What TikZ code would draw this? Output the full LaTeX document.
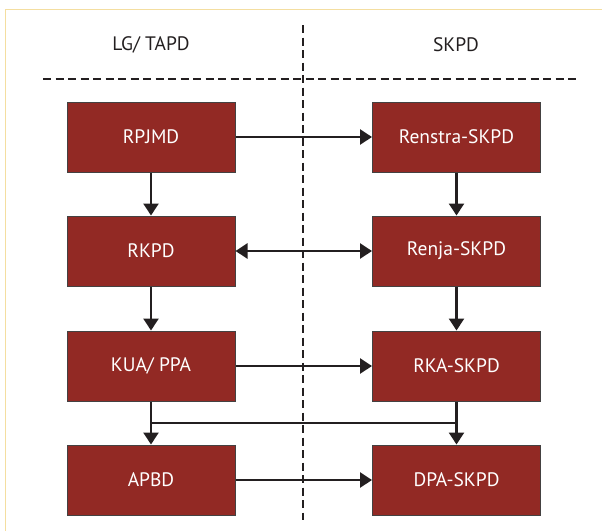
\documentclass[tikz,border=0pt]{standalone}
\usepackage{fontspec}
\setmainfont{PT Sans}
\usepackage{xcolor}
\usetikzlibrary{arrows.meta, positioning}

\definecolor{rojo}{RGB}{146,41,36}
\definecolor{borde}{RGB}{244,222,160}
\definecolor{tinta}{RGB}{35,31,32}

\tikzset{
    caja/.style={draw=tinta!85, line width=1pt, fill=rojo, text=white,
        minimum width=168pt, minimum height=70pt, inner sep=0pt,
        font=\fontsize{19.5}{22}\selectfont},
    titulo/.style={text=tinta, font=\fontsize{19.5}{22}\selectfont},
    punta/.style={Triangle[length=12pt, width=15pt]},
    flecha/.style={-{Triangle[length=12pt, width=15pt]}, line width=2.6pt, draw=tinta},
    guia/.style={draw=tinta, line width=2.6pt, dash pattern=on 8pt off 4.5pt}
}

\begin{document}
\begin{tikzpicture}[x=1pt, y=-1pt]
    \useasboundingbox (0,0) rectangle (602,531);

    % Marco
    \draw[borde, line width=1.5pt] (5.5,531) -- (5.5,9.5) -- (602,9.5);

    % Encabezados y lineas guia
    \node[titulo] (lg) at (151,45) {LG/ TAPD};
    \node[titulo] (skpd) at (456,45) {SKPD};
    \draw[guia] (43,79) -- (576,79);
    \draw[guia] (303,25) -- (303,520);

    % Columna izquierda
    \node[caja] (rpjmd) at (151,137) {RPJMD};
    \node[caja] (rkpd)  at (151,251) {RKPD};
    \node[caja] (kua)   at (151,366) {KUA/ PPA};
    \node[caja] (apbd)  at (151,480) {APBD};

    % Columna derecha
    \node[caja] (renstra) at (456.5,137) {Renstra-SKPD};
    \node[caja] (renja)   at (456.5,251) {Renja-SKPD};
    \node[caja] (rka)     at (456.5,366) {RKA-SKPD};
    \node[caja] (dpa)     at (456.5,480) {DPA-SKPD};

    % Flechas verticales
    \draw[flecha] (rpjmd) -- (rkpd);
    \draw[flecha] (rkpd) -- (kua);
    \draw[flecha] (kua) -- (apbd) coordinate[pos=0.5] (kuaapbd);
    \draw[flecha] (renstra) -- (renja);
    \draw[flecha] (renja) -- (rka);
    \draw[flecha] (rka) -- (dpa) coordinate[pos=0.5] (rkadpa);

    % Flechas horizontales
    \draw[flecha] (rpjmd) -- (renstra);
    \draw[flecha, {Triangle[length=12pt, width=15pt]}-{Triangle[length=12pt, width=15pt]}] (rkpd) -- (renja);
    \draw[flecha] (kua) -- (rka);
    \draw[flecha] (apbd) -- (dpa);

    % Enlace entre KUA/PPA y RKA
    \draw[tinta, line width=1.2pt] (kuaapbd) -- (rkadpa);
\end{tikzpicture}
\end{document}
